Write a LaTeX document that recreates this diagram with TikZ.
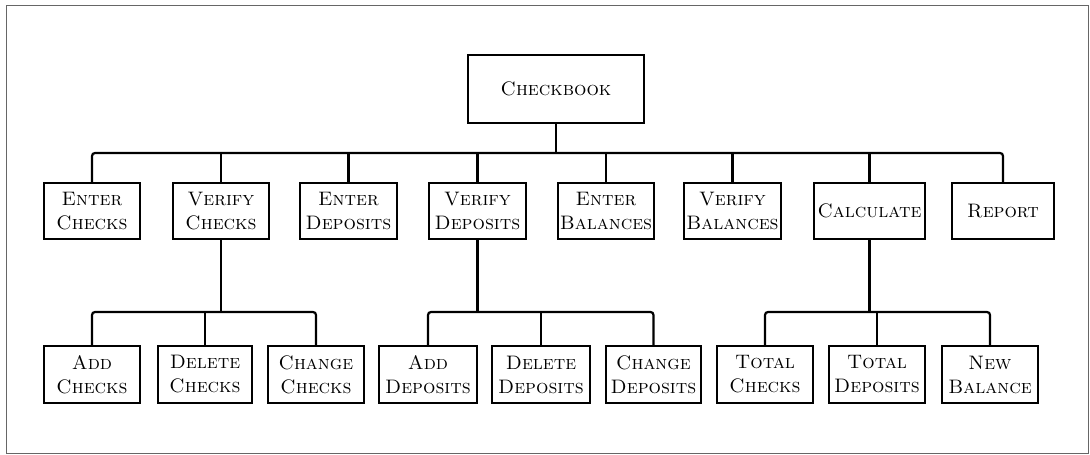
\documentclass[tikz,border=0pt]{standalone}
\usepackage{fontspec}
\begin{document}
\begin{tikzpicture}[x=1pt,y=-1pt,
  box/.style={draw, line width=1.3pt, inner sep=0pt, align=center,
    font=\fontsize{19.5}{24}\selectfont\scshape},
  conn/.style={line width=2.2pt, rounded corners=3pt},
  frame/.style={draw=black!60, line width=0.9pt}]
\useasboundingbox (0,0) rectangle (1090,455);
\draw[frame] (6,5) rectangle (1088,453);
% root
\node[box, minimum width=176pt, minimum height=68pt] (root) at (556,89) {Checkbook};
% level 2
\tikzset{l2/.style={box, minimum height=56pt}}
\node[l2, minimum width=96pt] (ec) at (92,211) {Enter\\Checks};
\node[l2, minimum width=96pt] (vc) at (221,211) {Verify\\Checks};
\node[l2, minimum width=97pt] (ed) at (348.5,211) {Enter\\Deposits};
\node[l2, minimum width=97pt] (vd) at (477.5,211) {Verify\\Deposits};
\node[l2, minimum width=96pt] (eb) at (606,211) {Enter\\Balances};
\node[l2, minimum width=97pt] (vb) at (732.5,211) {Verify\\Balances};
\node[l2, minimum width=111pt] (calc) at (869.5,211) {Calculate};
\node[l2, minimum width=102pt] (rep) at (1003,211) {Report};
% level 3
\tikzset{l3/.style={box, minimum height=57pt}}
\node[l3, minimum width=96pt] (ac) at (92,374.5) {Add\\Checks};
\node[l3, minimum width=94pt] (dc) at (205,374.5) {Delete\\Checks};
\node[l3, minimum width=96pt] (cc) at (316,374.5) {Change\\Checks};
\node[l3, minimum width=98pt] (ad) at (428,374.5) {Add\\Deposits};
\node[l3, minimum width=98pt] (dd) at (541,374.5) {Delete\\Deposits};
\node[l3, minimum width=95pt] (cd) at (653.5,374.5) {Change\\Deposits};
\node[l3, minimum width=96pt] (tc) at (765,374.5) {Total\\Checks};
\node[l3, minimum width=96pt] (td) at (877,374.5) {Total\\Deposits};
\node[l3, minimum width=96pt] (nb) at (990,374.5) {New\\Balance};
% buses
\coordinate (b1) at (557,153);
\coordinate (b2) at (0,312);
\draw[conn] (root.south) -- (root.south |- b1);
\draw[conn] (ec.north) |- (rep.north |- b1) -- (rep.north);
\foreach \n in {vc,ed,vd,eb,vb,calc} \draw[conn] (\n.north) -- (\n.north |- b1);
% sub-trees
\draw[conn] (vc.south) -- (vc.south |- b2);
\draw[conn] (ac.north) |- (cc.north |- b2) -- (cc.north);
\draw[conn] (dc.north) -- (dc.north |- b2);
\draw[conn] (vd.south) -- (vd.south |- b2);
\draw[conn] (ad.north) |- (cd.north |- b2) -- (cd.north);
\draw[conn] (dd.north) -- (dd.north |- b2);
\draw[conn] (calc.south) -- (calc.south |- b2);
\draw[conn] (tc.north) |- (nb.north |- b2) -- (nb.north);
\draw[conn] (td.north) -- (td.north |- b2);
\end{tikzpicture}
\end{document}
